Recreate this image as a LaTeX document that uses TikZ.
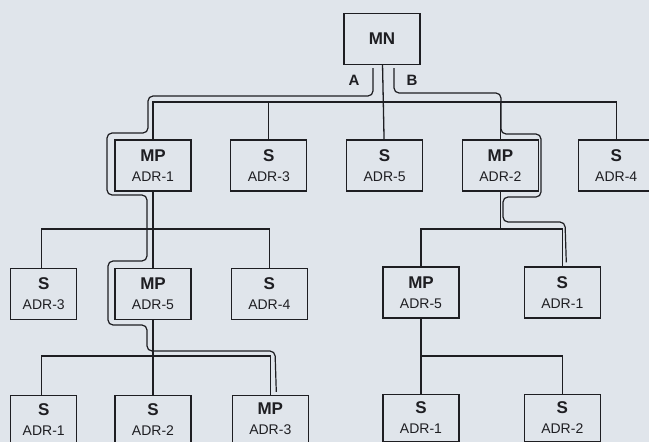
\documentclass[tikz,border=0pt]{standalone}
\usepackage{fontspec}
\setmainfont{Liberation Sans}
\usepackage{tikz}
\usetikzlibrary{positioning,calc}

\definecolor{paper}{RGB}{224,229,235}
\definecolor{ink}{RGB}{30,30,34}

% two-line station label: kind on top, address below
\newcommand{\station}[2]{{\bfseries #1}\\{\fontsize{14}{20}\selectfont #2}}

\begin{document}
\begin{tikzpicture}[
  x=1pt, y=-1pt,
  box/.style={draw=ink, line width=1.3pt, text=ink, align=center, inner sep=0pt,
              minimum width=76pt, minimum height=51pt, font=\fontsize{17}{20}\selectfont},
  narrow/.style={box, minimum width=66pt},
  low/.style={minimum height=47pt},
  wire/.style={draw=ink, line width=1.3pt},
  route/.style={draw=ink, line width=1.2pt, rounded corners=5pt},
  lbl/.style={text=ink, font=\bfseries\fontsize{15}{15}\selectfont},
  node distance=76pt and 38.5pt
]
  \fill[paper] (0,0) rectangle (649,442);
  \useasboundingbox (0,0) rectangle (649,442);

  % master
  \node[box] (mn) at (382,39) {\bfseries MN};

  % first level
  \node[box] (mp1) at (153,165.5) {\station{MP}{ADR-1}};
  \node[box, right=of mp1] (s3) {\station{S}{ADR-3}};
  \node[box, right=of s3] (s5) {\station{S}{ADR-5}};
  \node[box, right=of s5] (mp2) {\station{MP}{ADR-2}};
  \node[box, right=of mp2] (s4) {\station{S}{ADR-4}};

  % second level
  \node[box, below=of mp1] (mp5) {\station{MP}{ADR-5}};
  \node[narrow, left=37pt of mp5] (s3b) {\station{S}{ADR-3}};
  \node[box, right=39pt of mp5] (s4b) {\station{S}{ADR-4}};
  \node[box] (mp5r) at (421,292.5) {\station{MP}{ADR-5}};
  \node[box, right=64pt of mp5r] (s1r) {\station{S}{ADR-1}};

  % third level
  \node[box, low, below=75pt of mp5] (s2c) {\station{S}{ADR-2}};
  \node[narrow, low, left=37pt of s2c] (s1c) {\station{S}{ADR-1}};
  \node[box, low, right=40pt of s2c] (mp3c) {\station{MP}{ADR-3}};
  \node[box, low, below=75pt of mp5r] (s1d) {\station{S}{ADR-1}};
  \node[box, low, below=75pt of s1r] (s2d) {\station{S}{ADR-2}};

  % buses
  \coordinate (bus1) at (0,102);
  \coordinate (bus2) at (0,229);
  \coordinate (bus3) at (0,356);

  \draw[wire] (mn) -- (s5);
  \draw[wire] (mp1.north) |- (bus1 -| s4) -- (s4.north);
  \draw[wire] (s3.north) -- (s3 |- bus1);
  \draw[wire] (mp2.north) -- (mp2 |- bus1);

  \draw[wire] ([xshift=-2pt]s3b.north) |- (bus2 -| s4b) -- (s4b.north);
  \draw[wire] (mp1) -- (mp5);
  \draw[wire] (mp5r.north) |- (bus2 -| s1r) -- (s1r.north);
  \draw[wire] (mp2.south) -- (mp2 |- bus2);

  \draw[wire] ([xshift=-2pt]s1c.north) |- (bus3 -| mp3c) -- (mp3c.north);
  \draw[wire] (mp5) -- (s2c);
  \draw[wire] (s1d.north) |- (bus3 -| s2d) -- (s2d.north);
  \draw[wire] (mp5r.south) -- (mp5r |- bus3);

  % routes A and B
  \draw[route] ([xshift=-9pt,yshift=-3pt]mn.south) -- (373,96) -- (148,96)
    -- (148,133) -- (107,133) -- (107,195) -- (147,195) -- (147,261)
    -- (108,261) -- (108,325) -- (147,325) -- (147,351) -- (275,351)
    -- ([xshift=6pt,yshift=3pt]mp3c.north);
  \draw[route] ([xshift=12pt,yshift=-3pt]mn.south) -- (394,93) -- (501,93)
    -- (501,134) -- (541,134) -- (541,197) -- (503,197) -- (503,222)
    -- (565,222) -- ([xshift=4pt,yshift=4pt]s1r.north);

  \node[lbl] (la) at (354,80) {A};
  \node[lbl] (lb) at (412,80) {B};
\end{tikzpicture}
\end{document}
